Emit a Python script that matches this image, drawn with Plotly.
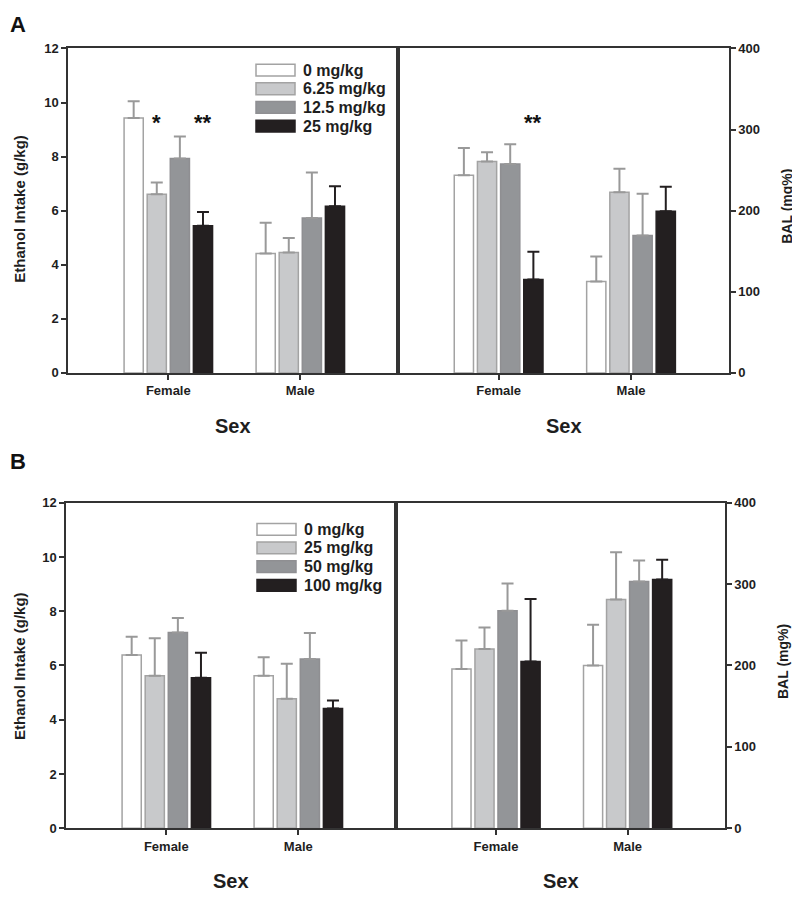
import plotly.graph_objects as go

sexes = ["Female", "Male"]
doses_a = ["0 mg/kg", "6.25 mg/kg", "12.5 mg/kg", "25 mg/kg"]
doses_b = ["0 mg/kg", "25 mg/kg", "50 mg/kg", "100 mg/kg"]

# Panel A: ethanol intake (g/kg) per dose -> [Female, Male]
a_intake = [[9.43, 4.42], [6.61, 4.45], [7.93, 5.73], [5.44, 6.16]]
a_intake_err = [[0.62, 1.13], [0.43, 0.54], [0.81, 1.68], [0.51, 0.74]]
# Panel A: BAL (mg%)
a_bal = [[243.6, 112.7], [260.6, 222.6], [257.4, 169.3], [115.2, 199.2]]
a_bal_err = [[33.6, 30.7], [11.3, 29.1], [24.6, 51.7], [34.3, 30.3]]

# Panel B: ethanol intake (g/kg)
b_intake = [[6.39, 5.62], [5.62, 4.77], [7.22, 6.24], [5.55, 4.41]]
b_intake_err = [[0.67, 0.68], [1.38, 1.29], [0.53, 0.96], [0.92, 0.30]]
# Panel B: BAL (mg%)
b_bal = [[195.6, 200.0], [220.1, 281.0], [267.3, 303.2], [204.8, 305.6]]
b_bal_err = [[35.0, 50.0], [26.6, 58.0], [33.5, 25.8], [77.0, 24.2]]

# significance markers: (axis, sex index, dose index, y value, text)
stars = [("x", 0, 1, 9.27, "*"), ("x", 0, 3, 9.27, "**"), ("x2", 0, 3, 309, "**")]

fills = ["#ffffff", "#c8c9cb", "#939598", "#231f20"]
outlines = ["#a3a3a3", "#a3a3a3", "#8f8f92", "#231f20"]
err_colors = ["#999999", "#999999", "#999999", "#231f20"]

FONT = "Liberation Sans, Arial, sans-serif"
AXC = "#333333"
TXT = "#1e1e1e"
BARGAP = 0.30
BARGROUPGAP = 0.17

W, H = 800, 900
OFF = 8  # page offset of the plot div inside the browser window


def px(x):
    return (x - OFF) / W


def py(y):
    return 1 - (y - OFF) / H


fig = go.Figure()


def add_series(values, errors, names, xa, ya):
    for i in range(4):
        fig.add_trace(go.Bar(
            x=sexes, y=values[i], name=names[i],
            marker=dict(color=fills[i], line=dict(color=outlines[i], width=1.5)),
            error_y=dict(type="data", array=errors[i], arrayminus=[0, 0],
                         symmetric=False, color=err_colors[i], thickness=2, width=6),
            xaxis=xa, yaxis=ya, showlegend=False,
        ))


add_series(a_intake, a_intake_err, doses_a, "x", "y")
add_series(a_bal, a_bal_err, doses_a, "x2", "y2")
add_series(b_intake, b_intake_err, doses_b, "x3", "y3")
add_series(b_bal, b_bal_err, doses_b, "x4", "y4")

pa = dict(left=68, mid=398, right=729, top=42, bottom=372, leg_top=64, leg_x=256)
pb = dict(left=66, mid=396, right=725, top=504, bottom=835, leg_top=531, leg_x=257)

tickfont = dict(family=FONT, size=13, color=TXT, weight="bold")


def xax(l, r):
    return dict(domain=[px(l), px(r)], type="category", range=[-0.76, 1.74],
                showline=True, mirror=True, linecolor=AXC, linewidth=1.5,
                ticks="outside", ticklen=5, tickwidth=1.5, tickcolor=AXC,
                tickfont=tickfont, showgrid=False, zeroline=False, fixedrange=True)


def yax(t, b, rng, dtick, side):
    return dict(domain=[py(b), py(t)], range=rng, dtick=dtick, side=side,
                showline=True, mirror=True, linecolor=AXC, linewidth=1.5,
                ticks="outside", ticklen=5, tickwidth=1.5, tickcolor=AXC,
                tickfont=tickfont, showgrid=False, zeroline=False)


fig.update_layout(
    width=W, height=H,
    margin=dict(l=0, r=0, t=0, b=0),
    paper_bgcolor="white", plot_bgcolor="white",
    barmode="group", bargap=BARGAP, bargroupgap=BARGROUPGAP,
    font=dict(family=FONT, color=TXT),
    xaxis=dict(xax(pa["left"], pa["mid"]), anchor="y"),
    yaxis=dict(yax(pa["top"], pa["bottom"], [0, 12], 2, "left"), anchor="x"),
    xaxis2=dict(xax(pa["mid"], pa["right"]), anchor="y2"),
    yaxis2=dict(yax(pa["top"], pa["bottom"], [0, 400], 100, "right"), anchor="x2"),
    xaxis3=dict(xax(pb["left"], pb["mid"]), anchor="y3"),
    yaxis3=dict(yax(pb["top"], pb["bottom"], [0, 12], 2, "left"), anchor="x3"),
    xaxis4=dict(xax(pb["mid"], pb["right"]), anchor="y4"),
    yaxis4=dict(yax(pb["top"], pb["bottom"], [0, 400], 100, "right"), anchor="x4"),
    showlegend=False,
)

ann = []
shapes = []

# panel letters
for letter, yy in (("A", 17.5), ("B", 462.5)):
    ann.append(dict(text=letter, x=px(8), y=py(yy), xref="paper", yref="paper",
                    xanchor="left", yanchor="middle", showarrow=False,
                    font=dict(family=FONT, size=22, weight="bold", color="#111111")))

# legends (one per panel), built from the dose names and series colours
for p, names in ((pa, doses_a), (pb, doses_b)):
    for i, name in enumerate(names):
        yc = p["leg_top"] + 19 * i
        shapes.append(dict(type="rect", xref="paper", yref="paper",
                           x0=px(p["leg_x"]), x1=px(p["leg_x"] + 39),
                           y0=py(yc + 6), y1=py(yc - 6),
                           fillcolor=fills[i], line=dict(color=outlines[i], width=1.5)))
        ann.append(dict(text=name, x=px(p["leg_x"] + 45), y=py(yc), xref="paper", yref="paper",
                        xanchor="left", yanchor="middle", showarrow=False,
                        font=dict(family=FONT, size=16, weight="bold", color=TXT)))

# axis titles
for p, yc_e, yc_b in ((pa, 205, 203), (pb, 670, 666)):
    ann.append(dict(text="Ethanol Intake (g/kg)", x=px(20), y=py(yc_e), xref="paper", yref="paper",
                    textangle=-90, showarrow=False, xanchor="center", yanchor="middle",
                    font=dict(family=FONT, size=15, weight="bold", color=TXT)))
    ann.append(dict(text="BAL (mg%)", x=px(p["right"] + 58), y=py(yc_b), xref="paper", yref="paper",
                    textangle=-90, showarrow=False, xanchor="center", yanchor="middle",
                    font=dict(family=FONT, size=14, weight="bold", color=TXT)))
    for l, r in ((p["left"], p["mid"]), (p["mid"], p["right"])):
        ann.append(dict(text="Sex", x=px((l + r) / 2), y=py(p["bottom"] + 54),
                        xref="paper", yref="paper", showarrow=False,
                        xanchor="center", yanchor="middle",
                        font=dict(family=FONT, size=20, weight="bold", color=TXT)))

# significance asterisks placed over their bars
slot = (1 - BARGAP) / 4
for xa, sex_i, dose_i, yv, txt in stars:
    ya = "y" if xa == "x" else "y2"
    ann.append(dict(text=txt, x=sex_i + (dose_i - 1.5) * slot, y=yv, xref=xa, yref=ya,
                    showarrow=False, xanchor="center", yanchor="middle",
                    font=dict(family=FONT, size=22, weight="bold", color="#111111")))

fig.update_layout(annotations=ann, shapes=shapes)
fig.write_html("out.html")
